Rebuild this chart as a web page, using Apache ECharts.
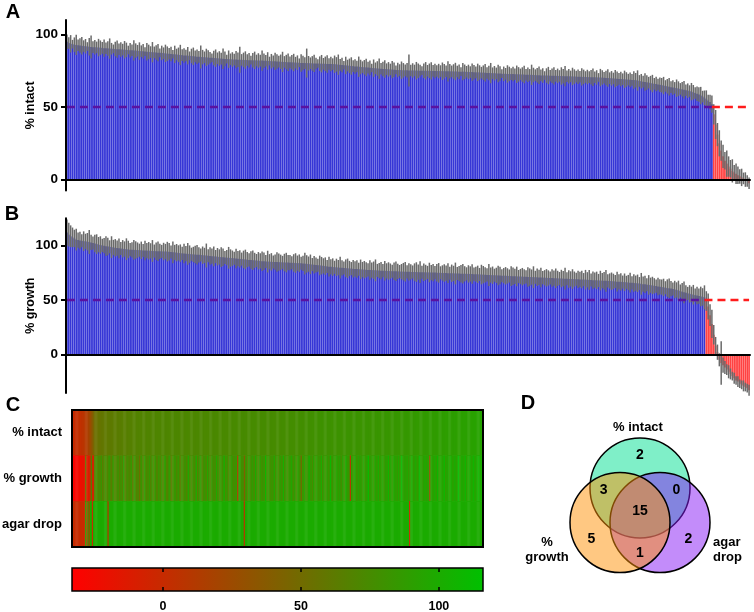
<!DOCTYPE html>
<html>
<head>
<meta charset="utf-8">
<script src="https://cdn.jsdelivr.net/npm/echarts@6.0.0/dist/echarts.min.js"></script>
<style>
  html, body { margin: 0; padding: 0; background: #fff; }
  #chart { width: 754px; height: 612px; }
</style>
</head>
<body>
<div id="chart"></div>
<script>
// ---- data: compounds ranked by % intact (panel A order, high to low) ----
var intactMean = [
  95.0,94.1,93.6,93.3,93.0,92.8,92.6,92.4,92.2,92.0,91.9,91.7,91.6,91.4,91.3,91.2,91.1,91.0,
  90.9,90.8,90.6,90.5,90.4,90.3,90.2,90.1,90.0,89.9,89.8,89.7,89.6,89.5,89.4,89.3,89.2,89.1,
  89.0,88.9,88.8,88.6,88.5,88.4,88.2,88.1,88.0,87.9,87.8,87.7,87.6,87.5,87.4,87.3,87.1,87.0,
  86.8,86.7,86.6,86.4,86.3,86.2,86.0,85.9,85.8,85.6,85.5,85.4,85.3,85.2,85.0,84.9,84.7,84.6,
  84.5,84.4,84.3,84.2,84.1,84.0,83.9,83.8,83.7,83.6,83.5,83.4,83.3,83.2,83.1,83.0,82.9,82.8,
  82.7,82.7,82.6,82.6,82.5,82.5,82.4,82.4,82.3,82.3,82.2,82.2,82.1,82.1,82.0,82.0,81.9,81.9,
  81.8,81.7,81.6,81.5,81.5,81.4,81.3,81.2,81.1,81.1,81.0,80.9,80.8,80.8,80.7,80.6,80.6,80.5,
  80.4,80.4,80.3,80.3,80.2,80.2,80.1,80.1,80.0,80.0,79.9,79.9,79.8,79.8,79.7,79.7,79.6,79.6,
  79.5,79.4,79.2,79.1,79.0,78.8,78.7,78.6,78.4,78.3,78.2,78.0,77.9,77.8,77.6,77.5,77.4,77.3,77.2,77.0,
  76.9,76.8,76.7,76.6,76.5,76.4,76.3,76.2,76.1,76.0,75.9,75.8,75.7,75.6,75.5,75.5,75.4,
  75.3,75.3,75.3,75.2,75.2,75.2,75.2,75.1,75.1,75.1,75.1,75.0,75.0,75.0,75.0,74.9,74.9,74.9,
  74.8,74.8,74.8,74.7,74.7,74.7,74.6,74.6,74.6,74.5,74.5,74.5,74.4,74.4,74.4,74.3,74.3,74.2,
  74.1,74.1,74.0,73.9,73.9,73.8,73.7,73.7,73.6,73.5,73.5,73.4,73.3,73.3,73.2,73.1,73.1,73.0,
  72.9,72.9,72.8,72.8,72.7,72.7,72.6,72.6,72.5,72.5,72.4,72.4,72.3,72.3,72.2,72.2,72.1,72.0,
  71.9,71.9,71.8,71.8,71.7,71.7,71.7,71.6,71.6,71.5,71.5,71.5,71.4,71.4,71.3,71.3,71.2,71.2,
  71.1,71.1,71.0,71.0,70.9,70.9,70.8,70.8,70.7,70.7,70.6,70.6,70.5,70.5,70.4,70.4,70.3,70.3,
  70.2,70.1,70.0,69.9,69.8,69.7,69.6,69.5,69.4,69.3,69.2,69.1,69.0,68.9,68.8,68.7,68.6,68.5,
  68.3,68.0,67.8,67.5,67.3,67.0,66.8,66.5,66.2,
  66.0,65.8,65.5,65.3,65.0,64.8,64.5,64.3,64.0,
  63.7,63.5,63.2,63.0,62.7,62.5,62.2,61.9,61.6,
  61.3,61.0,60.6,60.2,59.7,59.2,58.6,57.9,57.2,
  56.4,55.5,54.5,53.4,52.0,
  45.0,38.0,31.0,25.0,20.0,16.0,13.0,11.0,9.0,7.5,6.0,5.0,4.0,3.0,2.2,1.5,0.8,0,-1.0,-2.5
];
var intactSd = [
  5,4,6,3,5,7,4,5,6,4,5,3,6,8,4,5,4,6,5,4,
  6,4,5,7,4,3,5,6,4,5,4,6,5,3,5,4,7,5,4,6,
  4,5,3,6,5,4,7,4,5,6,3,5,4,6,5,4,5,3,6,4,
  5,7,4,5,4,6,3,5,6,4,5,4,8,5,4,6,5,4,3,5,
  6,4,5,4,7,5,3,6,4,5,4,6,5,9,4,5,6,4,5,3,
  5,6,4,5,4,7,5,4,6,3,5,4,6,5,4,5,7,4,5,6,
  4,5,6,4,5,3,6,5,4,10,5,4,5,6,4,3,5,6,4,5,
  6,4,5,4,6,5,7,4,5,3,6,4,5,6,4,5,4,7,5,4,
  5,6,4,5,3,6,4,5,7,4,5,6,4,5,4,6,5,3,5,4,
  6,5,4,5,11,4,5,4,6,5,4,3,5,6,4,5,6,4,5,4,
  5,4,6,5,4,7,5,4,5,6,4,5,3,6,5,4,5,4,6,5,
  4,6,5,4,5,6,4,5,7,4,5,4,6,5,3,5,4,6,5,4,
  5,4,6,5,4,5,6,4,5,4,7,5,4,5,6,4,5,3,5,6,
  4,5,6,4,5,4,6,5,7,4,5,4,6,5,4,5,4,6,5,4,
  5,4,5,6,4,5,3,6,5,4,5,6,4,5,4,6,5,4,5,4,
  6,5,4,5,4,6,5,7,4,5,4,6,5,4,5,6,4,5,4,5,
  5,6,4,5,6,4,5,4,6,5,4,5,6,4,5,4,6,5,4,5,
  5,6,4,5,6,4,5,6,
  7,10,8,9,7,8,6,9,7,6,8,5,7,6,5,6,4,5,4,4
];

// ---- data: compounds ranked by % growth (panel B order, high to low) ----
var growthMean = [
  112.0,110.0,108.5,107.5,106.5,105.5,105.0,104.6,104.3,104.0,103.8,103.5,103.2,102.8,102.3,101.8,101.3,100.8,
  100.5,100.1,99.8,99.4,99.1,98.8,98.5,98.2,97.9,97.6,97.4,97.2,97.0,96.8,96.6,96.4,96.2,96.1,
  96.0,95.9,95.8,95.7,95.6,95.5,95.4,95.3,95.2,95.1,95.0,94.9,94.8,94.8,94.7,94.6,94.5,94.5,
  94.4,94.2,94.0,93.8,93.6,93.4,93.2,93.0,92.8,92.7,92.5,92.3,92.1,92.0,91.8,91.7,91.5,91.4,
  91.3,91.1,90.9,90.8,90.6,90.4,90.2,90.0,89.9,89.7,89.5,89.3,89.2,89.0,88.8,88.7,88.5,88.4,
  88.3,88.1,87.9,87.7,87.5,87.3,87.2,87.0,86.8,86.7,86.5,86.3,86.2,86.0,85.8,85.6,85.5,85.3,
  85.2,85.1,85.0,84.9,84.8,84.8,84.7,84.6,84.5,84.4,84.3,84.3,84.2,84.1,84.0,83.9,83.8,83.8,
  83.7,83.5,83.3,83.1,82.9,82.7,82.5,82.3,82.1,81.9,81.7,81.5,81.3,81.1,80.8,80.6,80.4,80.2,
  80.0,79.9,79.7,79.6,79.5,79.3,79.2,79.0,78.9,78.8,78.6,78.5,78.4,78.2,78.1,77.9,77.8,77.7,
  77.6,77.5,77.4,77.3,77.2,77.1,77.0,76.9,76.9,76.8,76.7,76.6,76.5,76.4,76.4,76.3,76.2,76.1,76.0,
  76.0,75.9,75.8,75.8,75.7,75.7,75.6,75.6,75.5,75.5,75.4,75.4,75.3,75.3,75.2,75.2,75.1,75.1,
  75.0,74.9,74.9,74.8,74.7,74.7,74.6,74.5,74.5,74.4,74.3,74.3,74.2,74.1,74.1,74.0,74.0,73.9,
  73.9,73.8,73.7,73.6,73.5,73.4,73.3,73.2,73.1,73.0,72.9,72.8,72.7,72.7,72.6,72.5,72.4,72.3,
  72.3,72.2,72.1,72.0,71.9,71.8,71.7,71.6,71.5,71.5,71.4,71.3,71.2,71.1,71.0,71.0,70.9,70.8,
  70.8,70.7,70.6,70.5,70.4,70.3,70.2,70.2,70.1,70.0,69.9,69.8,69.7,69.7,69.6,69.5,69.4,69.3,
  69.3,69.2,69.1,69.0,68.9,68.8,68.7,68.7,68.6,68.5,68.4,68.3,68.2,68.1,68.0,67.9,67.8,67.7,
  67.7,67.6,67.5,67.4,67.2,67.1,67.0,66.8,66.7,66.6,66.4,66.3,66.2,66.0,65.9,65.7,65.5,65.4,
  65.3,65.0,64.8,64.5,64.3,64.0,63.8,63.5,63.3,63.0,62.7,62.4,62.1,61.8,61.5,61.2,60.9,60.7,
  60.4,60.0,59.6,59.2,58.7,58.2,57.6,57.0,56.5,56.0,55.6,55.2,54.8,54.4,54.0,53.6,53.2,52.8,52.4,
  49,44,36,28,18,8,2,-5,-8,-10,-12,-14,-16,-18,-20,-22,-24,-25,-27,-28,-29,-30,-31,-33
];
var growthSd = [
  12,11,10,9,8,10,7,8,6,9,7,8,11,7,6,8,9,7,8,6,
  7,9,8,6,10,7,8,7,9,6,8,7,10,8,6,7,9,8,7,6,
  8,6,9,7,8,7,10,6,8,9,7,6,8,7,9,8,6,10,7,8,
  7,8,6,9,7,10,8,6,7,8,9,7,6,8,7,11,6,8,7,9,
  6,8,7,9,8,6,7,10,8,7,6,9,7,8,6,8,9,7,6,8,
  9,7,6,8,7,9,8,6,10,7,8,6,7,9,8,7,6,8,9,7,
  7,6,8,9,7,8,6,7,10,8,7,9,6,8,7,6,9,8,7,8,
  6,9,7,8,6,8,7,10,7,6,8,9,7,6,8,7,8,6,9,7,
  8,7,6,9,7,8,10,6,7,8,6,9,7,8,7,6,8,9,7,6,
  7,8,9,6,8,7,6,8,9,7,10,6,8,7,6,9,7,8,6,8,
  9,6,7,8,7,9,6,8,7,10,6,7,8,9,7,6,8,7,9,6,
  7,8,6,9,8,7,6,10,7,8,6,7,9,8,6,7,8,7,6,9,
  8,7,9,6,7,8,7,6,9,8,7,10,6,8,7,9,6,7,8,7,
  6,8,7,9,7,6,8,7,10,6,8,7,9,7,6,8,7,8,6,9,
  7,9,6,8,7,8,6,9,7,8,10,6,7,8,7,6,9,7,8,6,
  8,6,7,9,6,8,7,8,6,10,7,8,6,9,7,8,7,6,8,7,
  7,8,6,8,9,7,6,8,7,9,6,8,10,7,6,8,7,9,6,8,
  7,9,8,11,
  9,12,10,13,9,8,7,6,20,7,6,5,6,5,4,5,4,5,4,4,5,4,4,5
];

// ---- data: panel C, columns left to right = compounds by ascending % intact ----
var heatRows = ['% intact', '% growth', 'agar drop'];
var growthHeat = [
  -33,-31,-30,-29,-28,-27,-25,-24,-22,-20,-18,-16,62,-14,-12,-10,2,75,-8,-5,
  68,72,80,65,77,70,85,62,74,69,81,66,73,90,71,64,78,83,67,75,
  70,86,63,76,79,68,92,72,65,80,74,69,77,84,61,73,88,70,66,79,
  49,75,82,68,71,95,64,78,73,86,69,76,81,67,91,72,65,84,77,70,
  83,68,74,99,71,66,79,87,73,62,80,75,93,69,77,85,70,64,82,76,
  72,88,67,79,96,74,81,69,85,71,77,102,66,83,75,90,73,68,86,78,
  70,94,76,82,67,89,74,80,72,98,77,84,69,91,75,81,106,73,87,79,
  71,85,76,93,68,82,78,88,18,74,97,80,72,86,36,77,83,70,92,79,
  75,89,81,73,100,78,84,71,95,80,76,87,74,108,82,79,90,73,85,77,
  83,96,75,88,80,72,93,81,78,104,76,86,82,74,91,79,99,84,77,89,
  81,75,94,83,78,44,87,80,97,76,85,82,110,79,88,74,92,84,81,96,
  78,87,83,101,76,90,85,80,94,82,77,112,86,79,92,84,88,98,81,95,
  83,78,91,86,80,105,84,89,77,8,93,82,87,100,85,79,96,83,90,88,
  84,97,81,92,87,115,83,90,86,94,80,99,88,85,103,82,91,87,95,84,
  89,93,86,108,82,96,90,85,101,88,94,83,98,87,92,114,86,95,89,91,
  97,85,93,88,104,90,86,99,92,87,95,110,89,94,84,100,91,96,88,93,
  28,90,97,86,102,94,89,107,92,88,98,95,91,112,87,96,93,99,90,104,
  94,89,101,96,92,98,116,90,95,100,93,97,106,91,99,94,103,96,92,108,
  97,95,101,99,110,96,104,100
];
var agarDropHitCols = [0,1,2,3,4,5,6,7,8,9,10,11,13,15,18,32,154,302];
var agarHitValue = 0;
var agarPassValue = 100;
var scaleMin = -33;
var scaleMax = 116;
var scaleTicks = [0, 50, 100];

// ---- data: panel D ----
var vennSets = ['% intact', '% growth', 'agar drop'];
var vennRegions = [[1,0,0],[0,1,0],[0,0,1],[1,1,0],[1,0,1],[0,1,1],[1,1,1]];
var vennCounts = [2, 5, 2, 3, 0, 1, 15];

var hitCutoff = 50;
var yTicks = [0, 50, 100];

// ---- styling ----
var FONT = '"Liberation Sans", Arial, Helvetica, sans-serif';
var passBlue = '#3636d6';
var hitRed = '#ff4242';
var errorGrey = '#6a6a6a';
var cutoffPurple = '#5a12a0';
var cutoffRed = '#ff1c1c';
var heatColors = ['#ff0000', '#00c000'];
var vennAngles = [90, 210, 330];
var vennFills = ['rgba(0,224,145,0.5)', 'rgba(255,145,5,0.5)', 'rgba(135,25,245,0.5)'];
var vennDrawOrder = [0, 2, 1];
var vennCentreDist = 1 / Math.sqrt(3);
var vennRadius = 1.25;

var N = intactMean.length;
var ranks = [];
for (var i = 0; i < N; i++) ranks.push(String(i + 1));

function errorData(means, sds) {
  return means.map(function (m, i) { return [i, m - sds[i], m + sds[i]]; });
}

function errorBar(params, api) {
  var top = api.coord([api.value(0), api.value(2)]);
  var bottom = api.coord([api.value(0), api.value(1)]);
  return {
    type: 'line',
    shape: { x1: top[0], y1: top[1], x2: bottom[0], y2: bottom[1] },
    style: { stroke: errorGrey, lineWidth: 1.5 }
  };
}

function cutoffSeries(values, axis, hitPart) {
  var lastPass = values.filter(function (v) { return v >= hitCutoff; }).length - 1;
  return {
    type: 'line', xAxisIndex: axis, yAxisIndex: axis, z: 6, silent: true,
    symbol: 'none', connectNulls: false,
    data: values.map(function (v, i) {
      return (hitPart ? i >= lastPass : i <= lastPass) ? hitCutoff : null;
    }),
    lineStyle: { color: hitPart ? cutoffRed : cutoffPurple, width: 2.5, type: [8, 5] }
  };
}

function barSeries(values, axis) {
  return {
    type: 'bar', xAxisIndex: axis, yAxisIndex: axis, z: 2,
    barCategoryGap: '8%',
    data: values,
    itemStyle: {
      color: function (p) { return p.value < hitCutoff ? hitRed : passBlue; }
    }
  };
}

function rankAxis(grid) {
  return {
    type: 'category', gridIndex: grid, data: ranks, z: 10,
    axisLine: { show: true, onZero: true, lineStyle: { color: '#000', width: 2 } },
    axisTick: { show: false }, axisLabel: { show: false }, splitLine: { show: false }
  };
}

function percentAxis(grid, min, max, name) {
  return {
    type: 'value', gridIndex: grid, min: min, max: max, z: 10,
    name: name, nameLocation: 'middle', nameGap: 29, nameMoveOverlap: false,
    nameTextStyle: { color: '#000', fontSize: 12.5, fontWeight: 'bold', fontFamily: FONT },
    axisLine: { show: true, onZero: false, lineStyle: { color: '#000', width: 2 } },
    axisTick: { show: true, length: 5, customValues: yTicks, lineStyle: { color: '#000', width: 2 } },
    axisLabel: { customValues: yTicks, margin: 8, color: '#000', fontSize: 13.5, fontWeight: 'bold', fontFamily: FONT },
    splitLine: { show: false }
  };
}

function scaleAxis(position) {
  return {
    type: 'value', gridIndex: 3, min: scaleMin, max: scaleMax, position: position, z: 10,
    axisLine: { show: false },
    axisTick: { show: true, inside: true, length: 4, customValues: scaleTicks, lineStyle: { color: '#000', width: 1.5 } },
    axisLabel: { show: position === 'bottom', customValues: scaleTicks, margin: 9, color: '#000', fontSize: 12.5, fontWeight: 'bold', fontFamily: FONT },
    splitLine: { show: false }
  };
}

// panel C cells
var heatData = [];
for (var c = 0; c < N; c++) {
  heatData.push([c, 0, intactMean[N - 1 - c]]);
  heatData.push([c, 1, growthHeat[c]]);
  heatData.push([c, 2, agarDropHitCols.indexOf(c) >= 0 ? agarHitValue : agarPassValue]);
}

function vennCircle(params, api) {
  var s = api.value(0);
  var a = vennAngles[s] * Math.PI / 180;
  var centre = api.coord([vennCentreDist * Math.cos(a), vennCentreDist * Math.sin(a)]);
  var r = api.size([vennRadius, 0])[0];
  return {
    type: 'circle',
    shape: { cx: centre[0], cy: centre[1], r: r },
    style: { fill: vennFills[s], stroke: '#000', lineWidth: 1.5 }
  };
}

function vennLabel(params, api) {
  var members = vennRegions[api.value(0)];
  var inside = members[0] + members[1] + members[2];
  var x = 0, y = 0;
  if (inside < 3) {
    var ang = inside === 1 ? vennAngles[members.indexOf(1)] : vennAngles[members.indexOf(0)] + 180;
    var d = inside === 1 ? 1.4 : 1.05;
    x = d * Math.cos(ang * Math.PI / 180);
    y = d * Math.sin(ang * Math.PI / 180);
  }
  var p = api.coord([x, y]);
  return {
    type: 'text', x: p[0], y: p[1],
    style: {
      text: String(api.value(1)), fill: '#000', font: 'bold 14px ' + FONT,
      align: 'center', verticalAlign: 'middle', textAlign: 'center', textVerticalAlign: 'middle'
    }
  };
}

function label(text, x, y, size, align) {
  return {
    type: 'text', x: x, y: y, silent: true,
    style: {
      text: text, fill: '#000', font: 'bold ' + size + 'px ' + FONT, lineHeight: size + 2,
      align: align || 'center', verticalAlign: 'middle',
      textAlign: align || 'center', textVerticalAlign: 'middle'
    }
  };
}

var chart = echarts.init(document.getElementById('chart'));
chart.setOption({
  animation: false,
  backgroundColor: '#fff',
  textStyle: { fontFamily: FONT },
  grid: [
    { left: 66, top: 20, width: 684, height: 170.6, outerBoundsMode: 'none' },
    { left: 66, top: 218.3, width: 684, height: 174.7, outerBoundsMode: 'none' },
    { left: 72, top: 410, width: 411, height: 137, show: true, z: 10, backgroundColor: 'transparent',
      borderColor: '#000', borderWidth: 2, outerBoundsMode: 'none' },
    { left: 72, top: 568, width: 411, height: 23, show: true, z: 10, backgroundColor: 'transparent',
      borderColor: '#000', borderWidth: 1.5, outerBoundsMode: 'none' },
    { left: 540, top: 431, width: 200, height: 160, outerBoundsMode: 'none' }
  ],
  xAxis: [
    rankAxis(0),
    rankAxis(1),
    { type: 'category', gridIndex: 2, data: ranks, show: false },
    scaleAxis('bottom'),
    scaleAxis('top'),
    { type: 'value', gridIndex: 4, min: -2.5, max: 2.5, show: false }
  ],
  yAxis: [
    percentAxis(0, -7.6, 110, '% intact'),
    percentAxis(1, -35.5, 125, '% growth'),
    {
      type: 'category', gridIndex: 2, data: heatRows, inverse: true,
      axisLine: { show: false }, axisTick: { show: false },
      axisLabel: { margin: 10, color: '#000', fontSize: 13, fontWeight: 'bold', fontFamily: FONT }
    },
    { type: 'value', gridIndex: 3, min: 0, max: 1, show: false },
    { type: 'value', gridIndex: 4, min: -2, max: 2, show: false }
  ],
  visualMap: {
    type: 'continuous', show: false, seriesIndex: 8, dimension: 2,
    min: scaleMin, max: scaleMax, inRange: { color: heatColors }
  },
  series: [
    barSeries(intactMean, 0),
    { type: 'custom', xAxisIndex: 0, yAxisIndex: 0, z: 3, silent: true,
      encode: { x: 0, y: [1, 2] }, data: errorData(intactMean, intactSd), renderItem: errorBar },
    cutoffSeries(intactMean, 0, false),
    cutoffSeries(intactMean, 0, true),
    barSeries(growthMean, 1),
    { type: 'custom', xAxisIndex: 1, yAxisIndex: 1, z: 3, silent: true,
      encode: { x: 0, y: [1, 2] }, data: errorData(growthMean, growthSd), renderItem: errorBar },
    cutoffSeries(growthMean, 1, false),
    cutoffSeries(growthMean, 1, true),
    { type: 'heatmap', xAxisIndex: 2, yAxisIndex: 2, data: heatData, progressive: 0,
      itemStyle: { borderWidth: 0 } },
    { type: 'custom', xAxisIndex: 3, yAxisIndex: 3, silent: true, encode: { x: [0, 1] },
      data: [[scaleMin, scaleMax]],
      renderItem: function (params, api) {
        var p0 = api.coord([api.value(0), 0]);
        var p1 = api.coord([api.value(1), 1]);
        return {
          type: 'rect',
          shape: { x: p0[0], y: p1[1], width: p1[0] - p0[0], height: p0[1] - p1[1] },
          style: { fill: new echarts.graphic.LinearGradient(0, 0, 1, 0, [
            { offset: 0, color: heatColors[0] }, { offset: 1, color: heatColors[1] }]) }
        };
      } },
    { type: 'custom', xAxisIndex: 5, yAxisIndex: 4, silent: true, clip: false,
      data: vennDrawOrder.map(function (s) { return [s, 0]; }), renderItem: vennCircle },
    { type: 'custom', xAxisIndex: 5, yAxisIndex: 4, silent: true, clip: false, z: 5,
      data: vennCounts.map(function (n, k) { return [k, n]; }), renderItem: vennLabel }
  ],
  graphic: [
    label('A', 13, 12, 20), label('B', 12, 214, 20), label('C', 13, 405, 20), label('D', 528, 403, 20),
    label(vennSets[0], 638, 427, 13),
    label('%\n' + vennSets[1].replace('% ', ''), 547, 550, 13),
    label(vennSets[2].replace(' ', '\n'), 713, 550, 13, 'left')
  ]
});
</script>
</body>
</html>
